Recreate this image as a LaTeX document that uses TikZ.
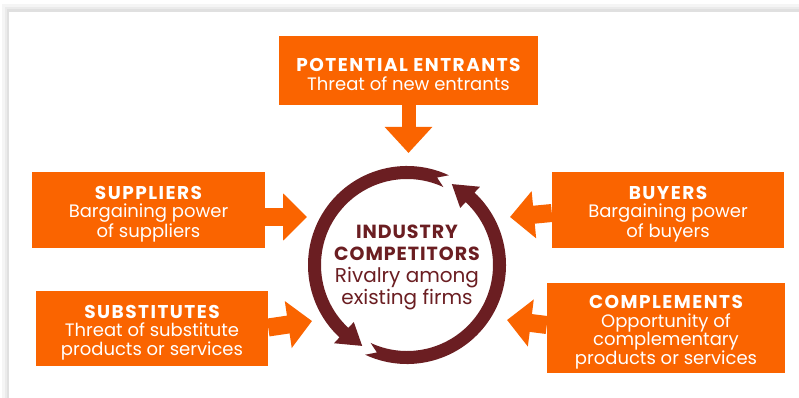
\documentclass[tikz,border=0pt]{standalone}
\usepackage{fontspec}
\setmainfont{Poppins}
\usetikzlibrary{arrows.meta,calc}
\definecolor{porange}{RGB}{250,100,0}
\definecolor{pmaroon}{RGB}{107,30,34}
\newcommand\boxtitle[1]{{\fontsize{18.5}{18.5}\selectfont\bfseries\addfontfeature{LetterSpace=8}\rule{0pt}{21.5pt}#1}}
\newcommand\ringtitle[1]{{\fontsize{19}{19.5}\selectfont\bfseries\addfontfeature{LetterSpace=5}#1}}
\begin{document}
\begin{tikzpicture}[x=1pt,y=-1pt,
  obox/.style={fill=porange, text=white, align=center, inner sep=0pt,
    font=\fontsize{18}{18.5}\selectfont},
  blockarrow/.style={draw=porange, line width=18pt, -{Triangle[width=46pt,length=24pt]}},
  toparrow/.style={draw=porange, line width=14pt, -{Triangle[width=46pt,length=26pt]}},
  ringpart/.style={fill=pmaroon}]
\useasboundingbox (0,0) rectangle (799,398);
% panel with soft shadow
\fill[black!4] (2,4) rectangle (799,398);
\fill[black!8] (5,7) rectangle (799,398);
\fill[black!12] (7,9) rectangle (799,398);
\fill[white] (9,12) rectangle (799,398);
% boxes
\node[obox, minimum width=259pt, minimum height=69pt] (pe) at (408.5,70.5)
  {\boxtitle{POTENTIAL ENTRANTS}\\Threat of new entrants};
\node[obox, minimum width=233pt, minimum height=76pt] (sup) at (148.5,210)
  {\boxtitle{SUPPLIERS}\\Bargaining power\\of suppliers};
\node[obox, minimum width=232pt, minimum height=75pt] (sub) at (152,328.5)
  {\boxtitle{SUBSTITUTES}\\Threat of substitute\\products or services};
\node[obox, minimum width=232pt, minimum height=76pt] (buy) at (668,210)
  {\boxtitle{BUYERS}\\Bargaining power\\of buyers};
\node[obox, minimum width=238pt, minimum height=90pt] (com) at (666,328)
  {\boxtitle{COMPLEMENTS}\\Opportunity of\\complementary\\products or services};
% centre
\coordinate (c) at (407,265);
\node[circle, minimum size=200pt, inner sep=0pt, text=pmaroon, align=center,
  font=\fontsize{20}{22}\selectfont] (ind) at (407,267)
  {\ringtitle{INDUSTRY}\\\ringtitle{COMPETITORS}\\Rivalry among\\existing firms};
% ring arrows
\fill[ringpart] ($(c)+(-65:99)$) arc[start angle=-65,end angle=-227,radius=99]
  -- ($(c)+(-227:107)$) -- ($(c)+(-241:92.5)$) -- ($(c)+(-227:78)$)
  -- ($(c)+(-227:86)$) arc[start angle=-227,end angle=-65,radius=86]
  -- ($(c)+(-71:92.5)$) -- cycle;
\fill[ringpart] ($(c)+(-245:99)$) arc[start angle=-245,end angle=-407,radius=99]
  -- ($(c)+(-407:107)$) -- ($(c)+(-421:92.5)$) -- ($(c)+(-407:78)$)
  -- ($(c)+(-407:86)$) arc[start angle=-407,end angle=-245,radius=86]
  -- ($(c)+(-251:92.5)$) -- cycle;
% orange arrows
\coordinate (tPE) at (408.5,153);
\coordinate (tSup) at (307,217);
\coordinate (tSub) at (312,321);
\coordinate (tBuy) at (510,217);
\coordinate (tCom) at (507,320);
\draw[toparrow] (pe.south) -- (tPE);
\draw[blockarrow] (sup.east |- tSup) -- (tSup);
\draw[blockarrow] ($(sub.east)+(0,-1)$) -- (tSub);
\draw[blockarrow] ($(buy.west)+(0,3)$) -- (tBuy);
\draw[blockarrow] ($(com.west)+(0,-3)$) -- (tCom);
\end{tikzpicture}
\end{document}
